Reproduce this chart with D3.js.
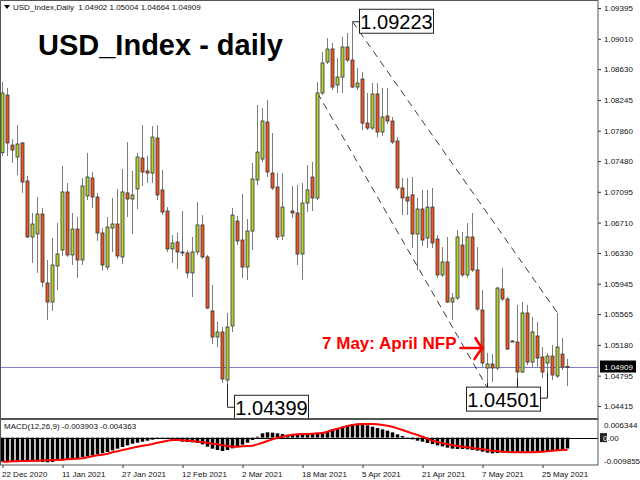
<!DOCTYPE html>
<html><head><meta charset="utf-8">
<script src="https://cdn.jsdelivr.net/npm/d3@7"></script>
<style>body{margin:0;background:#fff}svg{display:block}text{font-family:"Liberation Sans",Arial,sans-serif}</style>
</head><body><svg id="c" width="640" height="480"></svg>
<script>
// ---------- data ----------
const openP = [1.07584,1.08306,1.07680,1.07530,1.07706,1.07231,1.06530,1.06567,1.06817,1.05954,
1.05716,1.06167,1.06367,1.07093,1.06305,1.06629,1.06242,1.07043,1.07268,1.07030,
1.06580,1.06154,1.06642,1.06692,1.06280,1.07081,1.07005,1.07130,1.07518,1.07356,
1.07330,1.07768,1.07118,1.06855,1.06380,1.06467,1.06342,1.06330,1.06080,1.06342,
1.06680,1.06280,1.05604,1.05278,1.05341,1.04740,1.05416,1.06729,1.06492,1.06154,
1.06604,1.07243,1.07505,1.07968,1.07330,1.07155,1.06542,null,1.06855,1.06830,
1.06317,1.06955,1.07280,1.07018,1.08332,1.08719,1.08882,1.08431,1.08531,1.08907,
1.08744,1.08406,1.08506,1.07955,1.07893,1.08319,1.07843,1.08044,1.07981,1.07731,
1.07143,1.07030,1.07056,1.06567,1.06880,1.06517,1.06904,1.06504,1.06055,1.06217,
1.05716,1.05766,1.06429,1.06055,1.06530,1.06117,1.05616,1.04890,1.04940,1.04890,
1.05879,1.05754,1.05228,1.05216,1.04840,1.05579,1.04965,1.05291,1.05028,1.04953,
1.05040,1.04790,1.05065,1.04902];
const highP = [1.08469,1.08394,1.07755,1.07930,1.07718,1.07293,1.06830,1.07030,1.06892,1.06242,
1.06517,1.06705,1.07418,1.07206,1.06830,1.06779,1.07268,1.07581,1.07343,1.07081,
1.06642,1.06779,1.07018,1.07130,1.07380,1.07718,1.07356,1.07581,1.07930,1.07543,
1.07918,1.07930,1.07368,1.06904,1.06554,1.06580,1.06855,1.06367,1.06530,1.06967,
1.06804,1.06305,1.05929,1.05466,1.05403,1.05579,1.06892,1.06792,1.07068,1.06754,
1.07456,1.08181,1.08144,1.08244,1.07830,1.07330,1.07330,null,1.07168,1.07180,
1.07206,1.07430,1.07468,1.08469,1.08844,1.09019,1.08957,1.08769,1.09032,1.09082,
1.09223,1.08644,1.08594,1.08332,1.08456,1.08456,1.08394,1.08394,1.08031,1.07780,
1.07268,1.07268,1.07280,1.07018,1.07118,1.07118,1.07143,1.06554,1.06404,1.06530,
1.05829,1.06617,1.06592,1.06705,1.06830,1.06404,1.05866,1.05078,1.05066,1.05904,
1.06142,1.05779,1.05241,1.05679,1.05716,1.05679,1.05529,1.05466,1.05153,1.05078,
1.05178,1.05579,1.05266,1.05004];
const lowP = [1.07543,1.07543,1.07456,1.07305,1.07081,1.06517,1.06205,1.06080,1.05903,1.05491,
1.05604,1.05866,1.06292,1.06280,1.06179,1.06017,1.06179,1.06992,1.06892,1.06480,
1.06105,1.06117,1.06342,1.06255,1.06192,1.06779,1.06567,1.06880,1.07168,1.07206,
1.07206,1.06992,1.06804,1.06342,1.06205,1.06130,1.06292,1.06017,1.05779,1.06305,
1.06255,1.05628,1.05191,1.05153,1.04703,1.04690,1.05341,1.06429,1.06017,1.05991,
1.06367,1.07180,1.07468,1.07280,1.07118,1.06492,1.06492,null,1.06767,1.06179,
1.05991,1.06842,1.06855,1.06992,1.08306,1.08694,1.08369,1.08332,1.08332,1.08719,
1.08394,1.08369,1.07868,1.07868,1.07868,1.07780,1.07793,1.07943,1.07693,1.07118,
1.06804,1.06804,1.06392,1.06117,1.06417,1.06392,1.06392,1.06017,1.06030,1.05704,
1.05491,1.05741,1.06030,1.06017,1.06092,1.05604,1.04890,1.04703,1.04715,1.04865,
1.05729,1.05116,1.05216,1.04765,1.04828,1.04928,1.04890,1.04903,1.04765,1.04828,
1.04740,1.04765,1.04865,1.04664];
const closeP = [1.08332,1.07706,1.07618,1.07693,1.07218,1.06530,1.06692,1.06817,1.05966,1.05716,
1.06179,1.06317,1.07093,1.06305,1.06629,1.06242,1.07168,1.07280,1.07030,1.06580,
1.06179,1.06654,1.06692,1.06292,1.07093,1.07005,1.07056,1.07530,1.07343,1.07330,
1.07780,1.07056,1.06842,1.06380,1.06455,1.06342,1.06330,1.06080,1.06342,1.06680,
1.06280,1.05641,1.05278,1.05341,1.04753,1.05403,1.06804,1.06480,1.06154,1.06604,
1.07255,1.07593,1.07981,1.07343,1.07143,1.06530,1.06904,null,1.06830,1.06317,
1.06955,1.07118,1.07018,1.08332,1.08707,1.08882,1.08406,1.08531,1.08907,1.08744,
1.08406,1.08456,1.07955,1.07893,1.08319,1.07843,1.08031,1.07981,1.07718,1.07143,
1.07018,1.06980,1.06567,1.06880,1.06492,1.06904,1.06455,1.06055,1.06217,1.05716,
1.05766,1.06530,1.06055,1.06530,1.06117,1.05628,1.04953,1.04940,1.04890,1.05891,
1.05754,1.05128,1.05225,1.04840,1.05579,1.04965,1.05341,1.05015,1.04840,1.05040,
1.04803,1.05153,1.04903,1.04909];
// MACD main (histogram) and signal, in units of 0.001
const macdMain = [-8.66,-8.54,-8.42,-8.30,-8.30,-8.42,-8.54,-8.66,-8.78,-8.90,
-8.78,-8.42,-8.18,-7.82,-7.58,-7.34,-6.98,-6.74,-6.38,-6.02,
-5.66,-5.18,-4.58,-3.98,-3.38,-2.78,-2.18,-1.82,-1.46,-1.10,
-0.74,-0.50,-0.38,-0.50,-0.86,-1.22,-1.46,-1.58,-1.70,-1.94,
-2.42,-3.26,-3.98,-4.46,-4.82,-4.46,-3.86,-3.26,-2.54,-1.82,
-0.86,0.33,1.54,1.90,1.78,1.54,1.30,1.06,0.94,0.94,
1.06,1.18,1.30,1.54,1.90,2.38,2.98,3.46,3.94,4.42,
4.90,5.01,4.78,4.42,3.94,3.46,2.98,2.50,1.90,1.18,
0.58,-0.14,-0.62,-1.10,-1.46,-1.94,-2.30,-2.78,-3.14,-3.62,
-3.98,-4.10,-4.10,-4.22,-4.46,-4.70,-5.06,-5.42,-5.66,-5.54,
-5.30,-5.18,-5.06,-5.18,-5.06,-5.06,-4.94,-4.94,-4.82,-4.82,
-4.70,-4.46,-4.22,-3.903];
const macdSignal = [-8.66,-8.66,-8.54,-8.54,-8.42,-8.42,-8.30,-8.30,-8.18,-8.18,
-8.06,-8.06,-7.94,-7.82,-7.70,-7.58,-7.46,-7.10,-6.74,-6.38,
-6.14,-5.78,-5.30,-4.94,-4.46,-4.10,-3.62,-3.26,-2.90,-2.66,
-2.30,-1.82,-1.46,-1.10,-0.86,-0.86,-0.98,-1.10,-1.22,-1.46,
-1.58,-1.82,-2.18,-2.42,-2.78,-3.02,-3.26,-3.26,-3.14,-3.02,
-2.90,-2.42,-1.82,-1.22,-0.62,-0.02,0.34,0.70,1.06,1.18,
1.30,1.30,1.42,1.54,1.66,2.14,2.74,3.22,3.70,4.18,
4.54,4.78,4.90,4.90,4.90,4.78,4.54,4.30,3.94,3.34,
2.74,2.14,1.54,0.94,0.34,-0.38,-1.10,-1.58,-2.06,-2.42,
-2.78,-3.02,-3.26,-3.50,-3.74,-3.98,-4.22,-4.46,-4.70,-4.82,
-5.06,-5.18,-5.30,-5.30,-5.30,-5.30,-5.30,-5.18,-5.06,-4.94,
-4.70,-4.58,-4.46,-4.363];
const priceTicks = [1.09395,1.09010,1.08630,1.08245,1.07860,1.07480,1.07095,1.06710,1.06330,1.05945,1.05565,1.05180,1.04795,1.04415];
const dateTickIndex = [0,12,24,36,48,60,72,84,96,108];
const dateTickLabels = ["22 Dec 2020","11 Jan 2021","27 Jan 2021","12 Feb 2021","2 Mar 2021","18 Mar 2021","5 Apr 2021","21 Apr 2021","7 May 2021","25 May 2021"];
const lastPrice = 1.04909;
const macdMax = 0.006344, macdMin = -0.009855;
const channelUpper = [{i:70,p:1.09223},{i:111,p:1.05579}];
const channelLower = [{i:63,p:1.08332},{i:97,p:1.04640}];

// ---------- drawing ----------
const svg = d3.select("#c");
svg.append("rect").attr("width",640).attr("height",480).attr("fill","#fff");
const PR = 598; // right edge of plot
const x = d3.scaleLinear().domain([0,113]).range([2.5,567.5]);
const y = d3.scaleLinear().domain([1.04415,1.09395]).range([406,8]);
const ym = d3.scaleLinear().domain([macdMin,macdMax]).range([465,420]);

const idx = d3.range(openP.length).filter(i=>openP[i]!=null);

// current price line
svg.append("line").attr("x1",0).attr("x2",PR).attr("y1",Math.round(y(lastPrice))+0.5).attr("y2",Math.round(y(lastPrice))+0.5)
  .attr("stroke","#8080c8").attr("stroke-width",1);

// channel lines
function dashed(pts){
  svg.append("line").attr("x1",x(pts[0].i)).attr("y1",y(pts[0].p)).attr("x2",x(pts[1].i)).attr("y2",y(pts[1].p))
   .attr("stroke","#222").attr("stroke-width",0.9).attr("stroke-dasharray","7,5");
}
dashed(channelUpper); dashed(channelLower);

// candles
const cg = svg.append("g");
cg.selectAll("line.w").data(idx).join("line").attr("class","w")
  .attr("x1",i=>x(i)).attr("x2",i=>x(i)).attr("y1",i=>y(highP[i])).attr("y2",i=>y(lowP[i]))
  .attr("stroke","#7c7c7c").attr("stroke-width",1);
cg.selectAll("rect.b").data(idx).join("rect").attr("class","b")
  .attr("x",i=>x(i)-1.5).attr("width",3)
  .attr("y",i=>y(Math.max(openP[i],closeP[i])))
  .attr("height",i=>Math.max(1,y(Math.min(openP[i],closeP[i]))-y(Math.max(openP[i],closeP[i]))))
  .attr("fill",i=>closeP[i]>=openP[i]?"#b4d232":"#f0561e")
  .attr("stroke","#333").attr("stroke-width",0.8);

// annotations with boxes
function box(cx, cy, txt){
  svg.append("rect").attr("x",cx).attr("y",cy-12).attr("width",74).attr("height",24)
    .attr("fill","#fff").attr("stroke","#222").attr("stroke-width",1);
  svg.append("text").attr("x",cx+37).attr("y",cy+7.5).attr("text-anchor","middle")
    .attr("font-size",20).attr("fill","#000").text(txt);
}
const conn = d3.path;
// 1.09223
{
  const ax = x(70), ay = y(1.09223);
  svg.append("path").attr("d",`M${ax},${ay}H${ax+7}`).attr("stroke","#222").attr("fill","none");
  box(ax+7, ay-0.5, "1.09223");
}
// 1.04399
{
  const ax = x(45), ay0 = y(lowP[45]), ay = y(1.04399);
  svg.append("path").attr("d",`M${ax},${ay0}V${ay}H${ax+7}`).attr("stroke","#222").attr("fill","none");
  box(ax+7, ay, "1.04399");
}
// 1.04501
{
  const ly = y(1.04501);
  const left = x(97)-21;
  [97,103].forEach(i=>{
    svg.append("path").attr("d",`M${x(i)},${y(lowP[i])}V${ly-12}`).attr("stroke","#222").attr("fill","none");
  });
  svg.append("path").attr("d",`M${left+74},${ly-1}H${x(109)}V${y(lowP[109])}`).attr("stroke","#222").attr("fill","none");
  box(left, ly, "1.04501");
}
// NFP note
{
  const tx = x(96), ty = y(1.0514);
  svg.append("path").attr("d",`M${tx-22},${ty}H${tx}M${tx-7},${ty-10}Q${tx-3},${ty-3} ${tx},${ty}Q${tx-3},${ty+3} ${tx-8},${ty+11}`)
    .attr("stroke","#ff0000").attr("stroke-width",2.6).attr("fill","none").attr("stroke-linecap","round");
  svg.append("text").attr("x",tx-26).attr("y",ty+1).attr("text-anchor","end")
    .attr("font-size",17).attr("font-weight","bold").attr("fill","#ff0000").text("7 May: April NFP");
}

// MACD panel
const z0 = ym(0);
svg.append("g").selectAll("rect").data(d3.range(macdMain.length)).join("rect")
  .attr("x",i=>x(i)-1.75).attr("width",3.5)
  .attr("y",i=>Math.min(z0,ym(macdMain[i]/1000)))
  .attr("height",i=>Math.abs(ym(macdMain[i]/1000)-z0))
  .attr("fill","#000");
svg.append("line").attr("x1",0).attr("x2",PR).attr("y1",Math.round(z0)+0.5).attr("y2",Math.round(z0)+0.5).attr("stroke","#000");
svg.append("path").datum(d3.range(macdSignal.length))
  .attr("d",d3.line().x(i=>x(i)).y(i=>ym(macdSignal[i]/1000)))
  .attr("fill","none").attr("stroke","#ff0000").attr("stroke-width",2);

// frames
svg.append("rect").attr("x",0.5).attr("y",0.5).attr("width",PR-0.5).attr("height",418)
  .attr("fill","none").attr("stroke","#555");
svg.append("rect").attr("x",0.5).attr("y",419.5).attr("width",PR-0.5).attr("height",45.5)
  .attr("fill","none").attr("stroke","#555");

// price axis
const ax = svg.append("g").attr("transform",`translate(${PR},0)`)
  .call(d3.axisRight(y).tickValues(priceTicks).tickSize(3).tickFormat(d3.format(".5f")));
ax.select(".domain").remove();
ax.selectAll("text").attr("font-size",8).attr("font-family","Liberation Sans, Arial, sans-serif").attr("x",6).attr("fill","#111");
ax.selectAll("line").attr("stroke","#333");

// current price label
{
  const cy = y(lastPrice);
  svg.append("rect").attr("x",600).attr("y",cy-6).attr("width",36).attr("height",12).attr("fill","#000");
  svg.append("text").attr("x",604).attr("y",cy+3).attr("font-size",8).attr("fill","#fff").text(d3.format(".5f")(lastPrice));
}

// MACD axis labels
svg.append("text").attr("x",604).attr("y",ym(macdMax)+8).attr("font-size",8).attr("fill","#111").text(String(macdMax));
{
  svg.append("rect").attr("x",600).attr("y",z0-4.5).attr("width",7).attr("height",9).attr("fill","#222");
  const t = svg.append("text").attr("x",603).attr("y",z0+3).attr("font-size",8);
  t.append("tspan").attr("fill","#fff").text("0");
  t.append("tspan").attr("fill","#111").text(".00");
}
svg.append("text").attr("x",604).attr("y",ym(macdMin)-1).attr("font-size",8).attr("fill","#111").text(String(macdMin));
svg.append("text").attr("x",4).attr("y",429).attr("font-size",8).attr("fill","#111")
  .text(`MACD(12,26,9) ${(macdMain[113]/1000).toFixed(6)} ${(macdSignal[113]/1000).toFixed(6)}`);

// date axis
const dx = svg.append("g").attr("transform","translate(0,465)")
  .call(d3.axisBottom(x).tickValues(dateTickIndex).tickSize(3).tickFormat((d,k)=>dateTickLabels[k]));
dx.select(".domain").remove();
dx.selectAll("text").attr("font-size",8).attr("font-family","Liberation Sans, Arial, sans-serif")
  .attr("text-anchor","start").attr("x",-1).attr("fill","#111");
dx.selectAll("line").attr("stroke","#333");

// header and title
svg.append("path").attr("d","M4,5H10L7,9Z").attr("fill","#000");
svg.append("text").attr("x",13).attr("y",10).attr("font-size",8).attr("fill","#111").style("white-space","pre")
  .text("USD_Index,Daily  1.04902 1.05004 1.04664 1.04909");
svg.append("text").attr("x",38).attr("y",55).attr("font-size",29).attr("font-weight","bold").attr("fill","#000")
  .text("USD_Index - daily");
</script></body></html>
